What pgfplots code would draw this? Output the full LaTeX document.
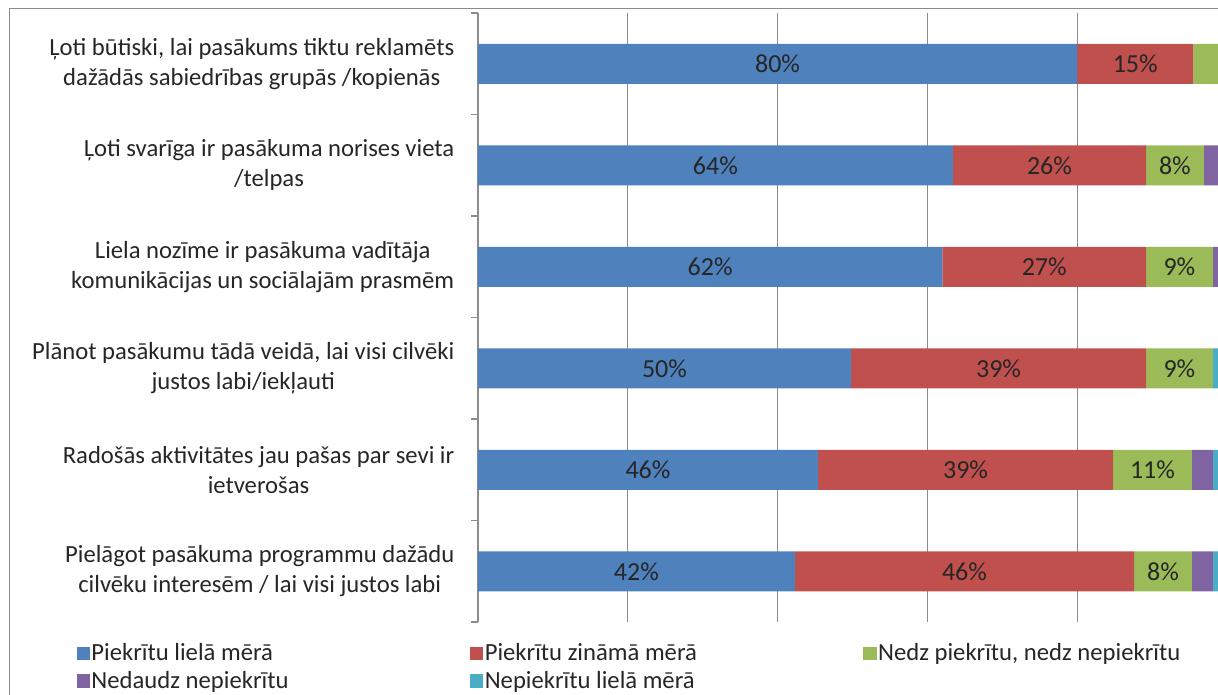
\documentclass[border=0pt]{standalone}
\usepackage{fontspec}
\setmainfont{Carlito}
\usepackage{pgfplots}
\usepackage{pgfplotstable}
\pgfplotsset{compat=1.18}

\definecolor{cBlue}{HTML}{4F81BD}
\definecolor{cRed}{HTML}{C0504D}
\definecolor{cGreen}{HTML}{9BBB59}
\definecolor{cPurple}{HTML}{8064A2}
\definecolor{cCyan}{HTML}{4BACC6}
\definecolor{txt}{HTML}{262626}
\definecolor{gridc}{HTML}{8C8C8C}

% shares in percent, one row per statement; *lab = printed label
\pgfplotstableread{
row blue bluelab red redlab green greenlab purple cyan
0   80.0 80\%    15.5 15\%   3.5   {}       0.7    0.3
1   63.4 64\%    25.8 26\%   7.7   8\%      2.3    0.8
2   62.0 62\%    27.2 27\%   8.9   9\%      1.2    0.7
3   49.8 50\%    39.4 39\%   8.9   9\%      0.0    1.9
4   45.4 46\%    39.4 39\%   10.5  11\%     2.8    1.9
5   42.3 42\%    45.3 46\%   7.7   8\%      2.8    1.9
}\shares

\pgfplotsset{
  seglabel/.style={
    nodes near coords={\pgfplotspointmeta},
    point meta=explicit symbolic,
    every node near coord/.append style={anchor=center, text=txt,
        font=\fontsize{19.5}{22}\selectfont},
  },
}

\begin{document}
\begin{tikzpicture}
\clip (0,0) rectangle (913.5pt,-521.25pt);
\draw[gridc, line width=0.9pt] (7pt,-6.4pt) -- (920pt,-6.4pt);
\draw[gridc, line width=0.9pt] (7pt,-6.4pt) -- (7pt,-530pt);
\begin{axis}[
    at={(358.5pt,-9.75pt)}, anchor=north west,
    scale only axis,
    width=561.75pt, height=456.75pt,
    xbar stacked,
    bar width=30pt,
    xmin=0, xmax=100,
    ymin=-0.5, ymax=5.5,
    y dir=reverse,
    axis y line*=left,
    axis x line*=bottom,
    x axis line style={draw=none},
    y axis line style={gridc, line width=0.8pt},
    xtick={20,40,60,80,100},
    xticklabels={},
    major x tick style={draw=none},
    xmajorgrids,
    grid style={gridc, line width=0.8pt},
    ytick={0,...,5},
    yticklabels={
      {Ļoti būtiski, lai pasākums tiktu reklamēts\\dažādās sabiedrības grupās /kopienās},
      {Ļoti svarīga ir pasākuma norises vieta\\/telpas},
      {Liela nozīme ir pasākuma vadītāja\\komunikācijas un sociālajām prasmēm},
      {Plānot pasākumu tādā veidā, lai visi cilvēki\\justos labi/iekļauti},
      {Radošās aktivitātes jau pašas par sevi ir\\ietverošas},
      {Pielāgot pasākuma programmu dažādu\\cilvēku interesēm / lai visi justos labi}},
    yticklabel style={align=center, font=\fontsize{18.5}{22.5}\selectfont, text=txt, xshift=-10pt},
    major y tick style={draw=none},
    minor ytick={-0.5,0.5,...,5.5},
    minor y tick style={gridc, line width=0.8pt},
    ytick align=outside,
    minor tick length=5pt,
    legend columns=3,
    legend style={draw=none, fill=none, at={(-0.536,-0.033)}, anchor=north west,
        font=\fontsize{18.5}{21.75}\selectfont, text=txt, inner sep=0pt,
        nodes={inner sep=1pt}, row sep=4.5pt,
        /tikz/every even column/.append style={column sep=0pt}},
    legend cell align=left,
    legend image code/.code={\fill[#1] (0pt,-5pt) rectangle (10pt,5pt);},
]
\addplot+[fill=cBlue, draw=none, seglabel]
    table[x=blue, y=row, meta=bluelab] {\shares};
\addlegendentry{\makebox[283pt][l]{Piekrītu lielā mērā}}
\addplot+[fill=cRed, draw=none, seglabel]
    table[x=red, y=row, meta=redlab] {\shares};
\addlegendentry{\makebox[283pt][l]{Piekrītu zināmā mērā}}
\addplot+[fill=cGreen, draw=none, seglabel]
    table[x=green, y=row, meta=greenlab] {\shares};
\addlegendentry{Nedz piekrītu, nedz nepiekrītu}
\addplot+[fill=cPurple, draw=none]
    table[x=purple, y=row] {\shares};
\addlegendentry{\makebox[283pt][l]{Nedaudz nepiekrītu}}
\addplot+[fill=cCyan, draw=none]
    table[x=cyan, y=row] {\shares};
\addlegendentry{Nepiekrītu lielā mērā}
\end{axis}
\end{tikzpicture}
\end{document}
